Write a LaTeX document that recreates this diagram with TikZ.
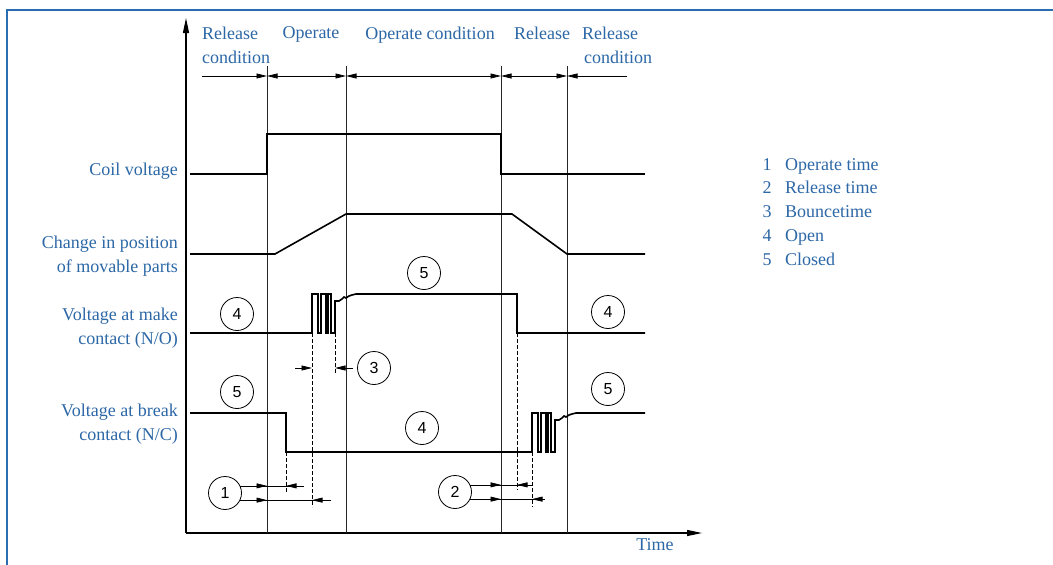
\documentclass[tikz,border=0pt]{standalone}
\usepackage{fontspec}
\setmainfont{Liberation Serif}
\newfontfamily\numfont{Liberation Sans}
\usetikzlibrary{positioning, arrows.meta, calc}
\definecolor{accent}{HTML}{2A6DB0}
\definecolor{captext}{HTML}{2C67A6}

\begin{document}
\begin{tikzpicture}[x=1pt, y=-1pt,
  sig/.style={line width=1.6pt},
  vline/.style={line width=0.7pt, black!85},
  axis/.style={line width=1.1pt, -{Triangle[length=15pt, width=6pt]}},
  guide/.style={line width=0.7pt, dash pattern=on 4pt off 2pt},
  dim/.style={line width=0.7pt},
  tip/.style={dim, -{Triangle[length=10.5pt, width=5pt]}},
  tips/.style={dim, {Triangle[length=10.5pt, width=5pt]}-{Triangle[length=10.5pt, width=5pt]}},
  numcircle/.style={circle, draw, line width=0.8pt, minimum size=33pt, inner sep=0pt, font=\numfont\fontsize{16}{16}\selectfont},
  sidelabel/.style={text=captext, font=\fontsize{18}{24}\selectfont, align=right, anchor=east, inner sep=0pt},
  toplabel/.style={text=captext, font=\fontsize{18}{24}\selectfont, align=left, inner sep=0pt},
  legtext/.style={text=captext, font=\fontsize{18}{18}\selectfont, inner sep=0pt},
  bounce/.style={insert path={-- ++(0,-39) -- ++(6,0) -- ++(0,39) -- ++(3,0) -- ++(0,-39) -- ++(5,0) -- ++(0,39) -- ++(2,0) -- ++(0,-39) -- ++(3,0) -- ++(0,39) -- ++(4,0) -- ++(0,-32) -- ++(4,0) -- ++(3,-2) -- ++(2,-2) -- ++(2,1) -- ++(3,-2) -- ++(3,-1) -- ++(4,-1)}}]
\useasboundingbox (0,0) rectangle (1053,565);
\draw[accent, line width=1.4pt] (1053,10) -- (7,10) -- (7,565);

\coordinate (origin) at (186,533);
\draw[axis] (origin) -- (186,18);
\draw[axis] (origin) -- (702,533);
\node[legtext] (time) at (655,545) {Time};

\coordinate (v1) at (267,66);
\coordinate (v2) at (346,66);
\coordinate (v3) at (501,66);
\coordinate (v4) at (567,66);
\foreach \v in {v1,v2,v3,v4}
  \draw[vline] (\v) -- (\v |- origin);

\coordinate (d0) at (202,76);
\coordinate (d5) at (627,76);
\draw[tip] (d0) -- (d0 -| v1);
\draw[tips] (d0 -| v1) -- (d0 -| v2);
\draw[tips] (d0 -| v2) -- (d0 -| v3);
\draw[tips] (d0 -| v3) -- (d0 -| v4);
\draw[tip] (d5) -- (d0 -| v4);

\node[toplabel, anchor=north west] (relA) at (202,26.5) {Release\\condition};
\node[toplabel, anchor=north] (oper) at (311,26.5) {Operate};
\node[toplabel, anchor=north] (opcond) at (430,26.5) {Operate condition};
\node[toplabel, anchor=north] (rel) at (542,26.5) {Release};
\node[toplabel, anchor=north west] (relB) at (582,26.5) {Release\\\hspace*{2pt}condition};

\node[sidelabel] (coil) at (178,171) {Coil voltage};
\node[sidelabel] (pos) at (178,256) {Change in position\\of movable parts};
\node[sidelabel] (make) at (178,328) {Voltage at make\\contact (N/O)};
\node[sidelabel] (break) at (178,424) {Voltage at break\\contact (N/C)};

\draw[sig] (190,174) -- (267,174) -- (267,134) -- (501,134) -- (501,174) -- (645,174);
\draw[sig] (190,254) -- (275,254) -- (346,214) -- (512,214) -- (567,254) -- (645,254);
\draw[sig] (190,333) -- (312,333) [bounce] -- (517,294) -- (517,333) -- (645,333);
\draw[sig] (190,413) -- (286,413) -- (286,452) -- (532,452) [bounce] -- (645,413);

\coordinate (g1) at (286,452);
\coordinate (g2) at (312,333);
\coordinate (g3) at (335,333);
\coordinate (g4) at (517,333);
\coordinate (g5) at (532,452);
\draw[guide] (g1) -- ++(0,40);
\draw[guide] (g2) -- ++(0,174);
\draw[guide] (g3) -- ++(0,40);
\draw[guide] (g4) -- ++(0,157);
\draw[guide] (g5) -- ++(0,55);

\node[numcircle] (nomakeA) at (237,314) {4};
\node[numcircle] (ncmake) at (424,273) {5};
\node[numcircle] (nomakeB) at (608,312) {4};
\node[numcircle] (bnc) at (374,368) {3};
\node[numcircle] (ncbreakA) at (237,392) {5};
\node[numcircle] (nobreak) at (422,428) {4};
\node[numcircle] (ncbreakB) at (608,389) {5};
\node[numcircle] (optime) at (225,493) {1};
\node[numcircle] (reltime) at (455,492) {2};

\draw[tip] (bnc.west -| 295,0) -- (bnc.west -| g2);
\draw[tip] (bnc.west -| 353,0) -- (bnc.west -| g3);

\draw[dim] (optime.25) -- (optime.25 -| 304,0);
\draw[tip] (optime.25) -- (optime.25 -| v1);
\draw[tip] (optime.25 -| 304,0) -- (optime.25 -| g1);
\draw[dim] (optime.-25) -- (optime.-25 -| 331,0);
\draw[tip] (optime.-25) -- (optime.-25 -| v1);
\draw[tip] (optime.-25 -| 331,0) -- (optime.-25 -| g2);

\draw[dim] (reltime.25) -- (reltime.25 -| 533,0);
\draw[tip] (reltime.25) -- (reltime.25 -| v3);
\draw[tip] (reltime.25 -| 533,0) -- (reltime.25 -| g4);
\draw[dim] (reltime.-25) -- (reltime.-25 -| 545,0);
\draw[tip] (reltime.-25) -- (reltime.-25 -| v3);
\draw[tip] (reltime.-25 -| 545,0) -- (reltime.-25 -| g5);

\foreach \n/\t [count=\i] in {1/Operate time, 2/Release time, 3/Bouncetime, 4/Open, 5/Closed} {
  \node[legtext, anchor=base] (legnum\n) at (767,146.2+23.8*\i) {\n};
  \node[legtext, anchor=base west] (leg\n) at (785,146.2+23.8*\i) {\t};
}
\end{tikzpicture}
\end{document}
